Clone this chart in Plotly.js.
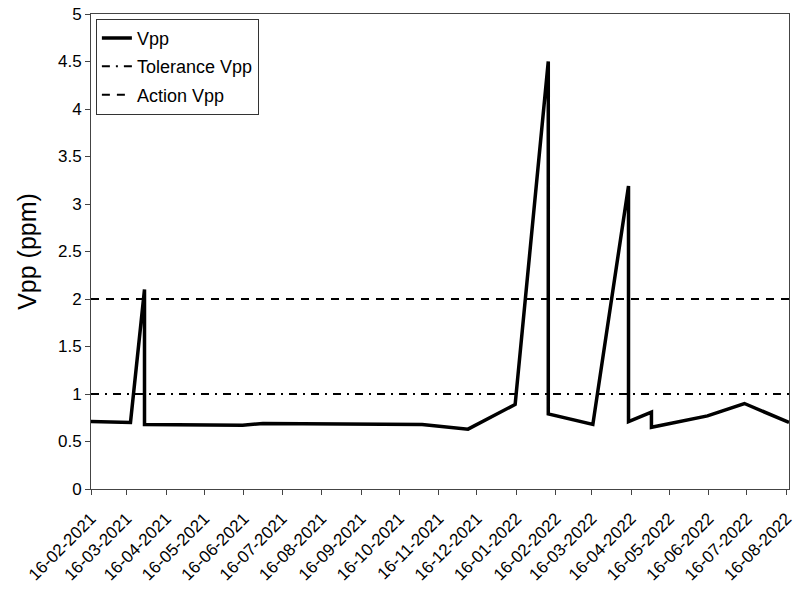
<!DOCTYPE html>
<html>
<head>
<meta charset="utf-8">
<script src="https://cdn.plot.ly/plotly-3.0.1.min.js"></script>
<style>html,body{margin:0;padding:0;background:#fff;}#chart{width:796px;height:598px;}</style>
</head>
<body>
<div id="chart"></div>
<script>
const dates = ['2021-02-16','2021-03-19','2021-03-30','2021-03-30','2021-06-15','2021-07-01','2021-11-03','2021-12-09','2022-01-15','2022-02-10','2022-02-10','2022-03-17','2022-04-14','2022-04-14','2022-05-02','2022-05-02','2022-06-15','2022-07-14','2022-08-18'];
const vpp = [0.71,0.70,2.10,0.68,0.67,0.69,0.68,0.63,0.89,4.50,0.79,0.68,3.19,0.71,0.81,0.65,0.77,0.90,0.70];
const toleranceVpp = 1;
const actionVpp = 2;
const xRange = ['2021-02-16','2022-08-18'];
const tickDates = ['2021-02-16','2021-03-16','2021-04-16','2021-05-16','2021-06-16','2021-07-16','2021-08-16','2021-09-16','2021-10-16','2021-11-16','2021-12-16','2022-01-16','2022-02-16','2022-03-16','2022-04-16','2022-05-16','2022-06-16','2022-07-16','2022-08-16'];
const tickLabels = tickDates.map(d => { const [y,m,dd] = d.split('-'); return dd + '-' + m + '-' + y; });
const yTicks = [0,0.5,1,1.5,2,2.5,3,3.5,4,4.5,5];

const font = 'Liberation Sans, Arial, sans-serif';
const traces = [
  {x: dates, y: vpp, type: 'scatter', mode: 'lines', name: 'Vpp', legendgroup: 'a', line: {color: '#000', width: 3.5}},
  {x: xRange, y: [toleranceVpp, toleranceVpp], type: 'scatter', mode: 'lines', name: 'Tolerance Vpp', legendgroup: 'b', line: {color: '#000', width: 2, dash: '8px,6px,2px,6px'}},
  {x: xRange, y: [actionVpp, actionVpp], type: 'scatter', mode: 'lines', name: 'Action Vpp', legendgroup: 'c', line: {color: '#000', width: 2, dash: '8px,7px'}}
];
const layout = {
  width: 796, height: 598,
  margin: {l: 91, r: 7, t: 14, b: 109},
  paper_bgcolor: '#fff', plot_bgcolor: '#fff',
  font: {family: font, color: '#000', size: 17},
  showlegend: true,
  legend: {x: 0.007, y: 0.99, xanchor: 'left', yanchor: 'top', bgcolor: '#fff', bordercolor: '#333', borderwidth: 1, font: {size: 18, family: font}, traceorder: 'grouped', tracegroupgap: 2},
  xaxis: {type: 'date', range: xRange, tickmode: 'array', tickvals: tickDates, ticktext: tickLabels, tickangle: -45, ticks: 'outside', ticklen: 5, tickcolor: '#444', showline: true, linecolor: '#444', linewidth: 1, mirror: true, showgrid: false, zeroline: false, tickfont: {size: 17}, ticklabelstandoff: 7},
  yaxis: {range: [0, 5], tickmode: 'array', tickvals: yTicks, ticktext: yTicks.map(String), ticks: 'outside', ticklen: 5, tickcolor: '#444', showline: true, linecolor: '#444', linewidth: 1, mirror: true, showgrid: false, zeroline: false, tickfont: {size: 17}, title: {text: 'Vpp (ppm)', font: {size: 25}, standoff: 14}}
};
Plotly.newPlot('chart', traces, layout, {displayModeBar: false, staticPlot: true});
</script>
</body>
</html>
